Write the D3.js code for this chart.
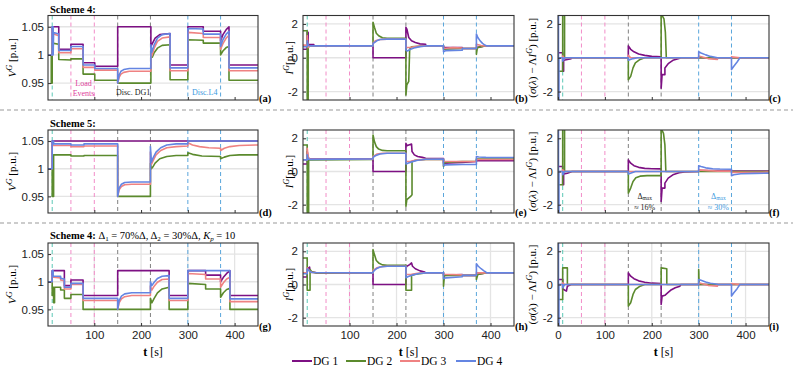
<!DOCTYPE html>
<html lang="en">
<head>
<meta charset="UTF-8">
<title>Schemes 4 and 5</title>
<script src="https://cdn.jsdelivr.net/npm/d3@7"></script>
<style>
    body { margin: 0; background: #fff; }
    svg { font-family: "Liberation Serif", "DejaVu Serif", serif; }
    .axis text { font-size: 11.5px; fill: #222; }
    .axis line { stroke: #333; }
    .axis path { display: none; }
</style>
</head>
<body>
<script>
// ---- data ----
const seriesNames = ['DG 1', 'DG 2', 'DG 3', 'DG 4'];
const eventTimes = [10, 50, 100, 150, 220, 300, 370];
const vTicks = [0.95, 1, 1.05];
const iTicks = [-2, 0, 2];
const tTicks = [100, 200, 300, 400];
const tTicksFull = [0, 100, 200, 300, 400];

// (a) Scheme 4, voltage
const aDG1 = [[1,1],[10,1],[10,1.05],[24,1.05],[24,1.010],[50,1.010],[50,1.019],[76,1.019],[76,0.986],[101,0.986],[101,0.980],[150,0.980],[150,1.05],[221,1.05],[221,1.015],[224,1.02],[230,1.03],[240,1.036],[262,1.038],[262,0.982],[300,0.982],[300,1.05],[333,1.05],[333,1.042],[370,1.042],[370,1.025],[375,1.036],[382,1.045],[388,1.05],[388,0.982],[450,0.982]];
const aDG2 = [[1,1],[8,1],[8,0.95],[10,0.95],[10,1.021],[24,1.019],[24,0.992],[50,0.991],[50,0.993],[76,0.993],[76,0.966],[101,0.966],[101,0.955],[150,0.955],[150,0.95],[221,0.95],[221,1.0],[224,0.996],[228,1.004],[235,1.012],[245,1.017],[262,1.018],[262,0.956],[300,0.956],[300,1.027],[333,1.026],[333,1.021],[370,1.021],[370,1.0],[375,1.007],[382,1.013],[388,1.015],[388,0.955],[450,0.955]];
const aDG3 = [[1,1],[10,1],[10,1.045],[13,1.037],[24,1.034],[24,1.004],[50,1.004],[50,1.011],[76,1.011],[76,0.978],[101,0.978],[101,0.973],[150,0.973],[150,0.95],[153,0.96],[157,0.966],[163,0.969],[175,0.971],[221,0.971],[221,1.005],[223,0.998],[228,1.012],[235,1.024],[245,1.03],[262,1.032],[262,0.972],[300,0.972],[300,1.04],[333,1.038],[333,1.031],[370,1.031],[370,1.01],[375,1.02],[382,1.03],[388,1.035],[388,0.972],[450,0.972]];
const aDG4 = [[1,1],[10,1],[10,1.05],[12,1.05],[12,1.0],[13,1.04],[24,1.037],[24,1.008],[50,1.008],[50,1.015],[76,1.015],[76,0.982],[101,0.982],[101,0.976],[150,0.976],[150,0.95],[153,0.964],[157,0.971],[163,0.974],[175,0.976],[221,0.976],[221,1.018],[223,1.005],[228,1.018],[235,1.03],[245,1.036],[262,1.038],[262,0.977],[300,0.977],[300,1.047],[333,1.046],[333,1.037],[370,1.037],[370,1.015],[375,1.027],[382,1.037],[388,1.042],[388,0.977],[450,0.977]];

// (b) Scheme 4, current
const bDG1 = [[1,0.5],[10,0.5],[10,1.5],[12,1.5],[12,0.8],[24,0.78],[24,0.7],[150,0.7],[150,0],[220,0],[220,1.8],[222,1.7],[226,1.2],[232,1.0],[240,0.9],[250,0.82],[262,0.8],[262,0.7],[300,0.7],[300,0.6],[340,0.6],[340,0.55],[370,0.55],[370,0.6],[388,0.7],[450,0.7]];
const bDG2 = [[1,1.6],[10,1.6],[10,-2.6],[12,-2.6],[12,0.6],[15,0.7],[150,0.7],[150,2.1],[153,1.8],[157,1.45],[162,1.3],[170,1.18],[180,1.15],[220,1.15],[220,-2.2],[222,-1.6],[226,-1.4],[228,0.5],[232,0.65],[262,0.7],[300,0.7],[300,0.5],[340,0.55],[370,0.55],[370,0.2],[372,0.6],[388,0.7],[450,0.7]];
const bDG3 = [[1,0.75],[10,0.75],[10,1.3],[12,0.6],[15,0.7],[150,0.7],[150,0.85],[155,1.0],[165,1.08],[180,1.1],[220,1.1],[220,0.6],[230,0.62],[245,0.68],[262,0.7],[300,0.7],[300,0.55],[320,0.6],[340,0.58],[340,0.55],[370,0.55],[370,0.8],[380,0.72],[388,0.7],[450,0.7]];
const bDG4 = [[1,0.65],[10,0.65],[10,1.0],[12,0.75],[15,0.7],[150,0.7],[150,0.85],[153,0.9],[158,1.0],[165,1.08],[180,1.1],[220,1.1],[220,0.45],[223,0.4],[230,0.5],[240,0.6],[250,0.66],[262,0.7],[300,0.7],[300,0.35],[305,0.42],[340,0.45],[340,0.55],[370,0.55],[370,1.4],[373,1.2],[378,1.0],[383,0.85],[388,0.75],[392,0.7],[450,0.7]];

// (c) Scheme 4, consensus error
const cDG1 = [[0,0.3],[10,0.3],[10,-0.8],[12,-0.8],[12,-0.15],[20,-0.1],[28,-0.05],[30,0],[150,0],[150,0.7],[155,0.5],[162,0.35],[172,0.22],[185,0.14],[200,0.08],[220,0.05],[220,-1.8],[222,-1.0],[228,-1.0],[228,-0.6],[235,-0.35],[245,-0.15],[258,-0.05],[262,0],[450,0]];
const cDG2 = [[0,-0.8],[10,-0.8],[10,2.6],[14,2.6],[14,0],[150,0],[150,-1.3],[155,-1.1],[160,-0.6],[165,-0.3],[175,-0.1],[185,0],[220,0],[220,2.6],[226,2.3],[229,1.5],[231,0],[450,0]];
const cDG3 = [[0,0],[10,0],[10,0.1],[14,-0.05],[20,0],[150,0],[150,0.15],[155,0],[300,0],[300,0.1],[320,-0.05],[340,-0.1],[340,0],[370,0],[370,0.05],[388,0],[450,0]];
const cDG4 = [[0,2.6],[1,2.6],[1,-2.6],[2,-2.6],[2,0],[10,0],[10,-0.2],[14,0],[150,0],[150,-0.15],[160,-0.05],[170,0],[300,0],[300,0.35],[305,0.28],[315,0.17],[325,0.08],[340,0],[370,0],[370,-0.7],[375,-0.5],[382,-0.25],[388,0],[450,0]];

// (d) Scheme 5, voltage
const dDG1 = [[1,1],[10,1],[10,1.05],[450,1.05]];
const dDG2 = [[1,1],[10,1],[10,0.95],[13,0.95],[13,1.025],[50,1.025],[50,1.023],[78,1.023],[78,1.024],[150,1.024],[150,0.95],[220,0.95],[220,1.01],[222,1.0],[225,1.003],[230,1.01],[240,1.018],[255,1.022],[275,1.024],[300,1.024],[300,1.029],[310,1.026],[330,1.023],[370,1.022],[370,1.018],[378,1.021],[390,1.024],[410,1.025],[450,1.025]];
const dDG3 = [[1,1],[10,1],[10,1.045],[13,1.042],[50,1.042],[50,1.04],[78,1.04],[78,1.041],[150,1.041],[150,0.95],[153,0.962],[158,0.968],[165,0.971],[180,0.972],[220,0.972],[220,1.03],[222,1.008],[226,1.015],[232,1.025],[242,1.033],[255,1.038],[275,1.04],[300,1.041],[300,1.047],[310,1.043],[325,1.04],[345,1.038],[370,1.037],[370,1.033],[378,1.037],[390,1.04],[410,1.042],[450,1.043]];
const dDG4 = [[1,1],[10,1],[10,1.05],[13,1.05],[13,1.045],[50,1.045],[50,1.043],[78,1.043],[78,1.045],[150,1.045],[150,0.95],[153,0.965],[158,0.972],[165,0.975],[180,0.976],[220,0.976],[220,1.04],[222,1.012],[226,1.02],[232,1.03],[242,1.038],[255,1.043],[275,1.045],[300,1.045],[300,1.05],[450,1.05]];

// (e) Scheme 5, current
const eDG1 = [[1,0.45],[10,0.45],[10,1.2],[12,0.8],[15,0.75],[150,0.75],[150,0],[220,0],[220,1.7],[222,1.55],[226,1.6],[232,1.65],[233,1.2],[238,1.0],[245,0.9],[255,0.85],[262,0.8],[300,0.78],[300,0.5],[340,0.55],[370,0.6],[370,0.65],[450,0.65]];
const eDG2 = [[1,1.6],[10,1.6],[10,-2.6],[13,-2.6],[13,0.7],[150,0.72],[150,2.2],[153,1.8],[157,1.5],[162,1.35],[170,1.27],[180,1.25],[220,1.25],[220,-2.1],[222,-1.7],[230,-1.5],[233,-1.4],[233,0.6],[240,0.68],[262,0.72],[300,0.72],[300,0.3],[302,0.55],[340,0.6],[370,0.62],[370,0.75],[450,0.75]];
const eDG3 = [[1,0.7],[10,0.7],[10,1.4],[12,0.9],[15,0.74],[150,0.74],[150,0.9],[158,1.05],[170,1.1],[220,1.1],[220,0.6],[230,0.62],[245,0.7],[262,0.73],[300,0.73],[300,0.6],[340,0.6],[370,0.6],[370,0.72],[450,0.72]];
const eDG4 = [[1,0.7],[10,0.7],[10,1.0],[12,0.75],[15,0.73],[150,0.76],[150,0.85],[155,0.95],[165,1.05],[180,1.1],[220,1.1],[220,0.45],[224,0.5],[232,0.58],[245,0.68],[262,0.74],[300,0.75],[300,0.35],[305,0.4],[340,0.42],[370,0.42],[370,0.9],[375,0.87],[390,0.85],[450,0.84]];

// (f) Scheme 5, consensus error
const fDG1 = [[0,0.3],[10,0.3],[10,-0.8],[12,-0.8],[12,-0.15],[20,-0.1],[30,0],[150,0],[150,0.7],[155,0.5],[162,0.35],[172,0.25],[185,0.19],[200,0.17],[220,0.16],[220,-1.8],[222,-1.0],[228,-1.0],[228,-0.7],[235,-0.4],[245,-0.2],[258,-0.08],[270,-0.03],[300,0],[300,0.05],[370,0.05],[370,0.03],[450,0.02]];
const fDG2 = [[0,-0.8],[10,-0.8],[10,2.6],[14,2.6],[14,0],[150,0],[150,-1.3],[155,-1.0],[160,-0.6],[166,-0.38],[175,-0.28],[190,-0.25],[220,-0.25],[220,2.6],[225,2.3],[228,1.6],[230,0],[450,0]];
const fDG3 = [[0,0],[10,0],[10,0.1],[14,0],[300,0],[300,0.1],[320,0.05],[340,0.02],[370,0.02],[370,-0.05],[400,-0.05],[450,-0.04]];
const fDG4 = [[0,2.6],[1,2.6],[1,-2.6],[2,-2.6],[2,0],[10,0],[10,-0.2],[14,0],[150,0],[150,-0.15],[165,0],[300,0],[300,0.35],[305,0.3],[315,0.22],[330,0.17],[345,0.15],[370,0.14],[370,-0.25],[375,-0.2],[390,-0.14],[420,-0.11],[450,-0.1]];

// (g) Scheme 4 tuned, voltage
const gDG1 = [[1,1],[10,1],[10,1.02],[36,1.02],[36,0.993],[50,0.993],[50,1.003],[76,1.003],[76,0.975],[150,0.975],[150,1.02],[260,1.02],[260,0.975],[300,0.975],[300,1.02],[338,1.02],[338,1.012],[370,1.012],[370,1.0],[376,1.008],[383,1.015],[390,1.02],[390,0.975],[450,0.975]];
const gDG2 = [[1,1],[10,1],[10,0.975],[12,0.99],[13,0.99],[13,0.962],[15,0.962],[15,0.99],[28,0.99],[28,0.985],[36,0.985],[36,0.97],[50,0.97],[50,0.977],[76,0.977],[76,0.95],[220,0.95],[220,0.97],[223,0.962],[228,0.97],[235,0.98],[245,0.987],[260,0.99],[260,0.95],[300,0.95],[300,0.997],[338,0.995],[338,0.987],[370,0.987],[370,0.972],[376,0.98],[383,0.986],[390,0.988],[390,0.95],[450,0.95]];
const gDG3 = [[1,1],[10,1],[10,1.01],[13,1.008],[28,1.007],[28,1.003],[36,1.002],[36,0.987],[50,0.987],[50,0.995],[76,0.995],[76,0.966],[150,0.966],[150,0.95],[153,0.962],[158,0.969],[165,0.973],[180,0.975],[220,0.975],[220,0.992],[223,0.985],[228,0.992],[235,0.999],[245,1.004],[260,1.005],[260,0.966],[300,0.966],[300,1.015],[338,1.013],[338,1.005],[370,1.005],[370,0.99],[376,0.998],[383,1.005],[390,1.008],[390,0.964],[450,0.964]];
const gDG4 = [[1,1],[10,1],[10,1.02],[12,1.02],[12,1.01],[28,1.01],[28,1.006],[36,1.005],[36,0.99],[50,0.99],[50,0.997],[76,0.997],[76,0.97],[150,0.97],[150,0.95],[153,0.966],[158,0.974],[165,0.978],[180,0.98],[220,0.98],[220,1.0],[223,0.993],[228,0.999],[235,1.006],[245,1.01],[260,1.011],[260,0.97],[300,0.97],[300,1.02],[390,1.02],[390,0.969],[450,0.969]];

// (h) Scheme 4 tuned, current
const hDG1 = [[1,0.45],[10,0.45],[10,0.9],[15,1.05],[16,0.8],[20,0.75],[28,0.72],[30,0.7],[150,0.7],[150,0],[220,0],[220,1.0],[222,1.1],[228,1.2],[232,1.3],[234,1.1],[240,0.95],[250,0.82],[260,0.75],[262,0.7],[300,0.7],[300,0.55],[340,0.6],[340,0.55],[370,0.55],[370,0.6],[390,0.7],[450,0.7]];
const hDG2 = [[1,1.6],[10,1.6],[10,-0.35],[16,-0.35],[16,0.9],[20,0.75],[28,0.7],[150,0.7],[150,2.1],[153,1.8],[157,1.45],[162,1.3],[170,1.18],[180,1.15],[220,1.15],[220,-0.35],[232,-0.35],[232,0.55],[240,0.62],[262,0.7],[300,0.7],[300,-0.1],[302,0.55],[340,0.55],[370,0.55],[370,0.3],[373,0.6],[390,0.7],[450,0.7]];
const hDG3 = [[1,0.7],[10,0.7],[10,1.0],[15,0.8],[20,0.72],[150,0.7],[150,0.85],[158,1.0],[170,1.08],[180,1.1],[220,1.1],[220,0.6],[232,0.62],[245,0.68],[262,0.7],[300,0.7],[300,0.62],[340,0.58],[340,0.55],[370,0.55],[370,0.7],[390,0.7],[450,0.7]];
const hDG4 = [[1,0.65],[10,0.65],[10,0.95],[15,0.8],[20,0.72],[150,0.7],[150,0.75],[153,0.85],[158,0.97],[165,1.05],[180,1.1],[220,1.1],[220,0.4],[225,0.48],[235,0.58],[248,0.66],[262,0.7],[300,0.7],[300,0.35],[305,0.4],[340,0.47],[340,0.55],[370,0.55],[370,1.25],[374,1.1],[380,0.95],[386,0.82],[390,0.75],[392,0.7],[450,0.7]];

// (i) Scheme 4 tuned, consensus error
const iDG1 = [[0,0.3],[10,0.3],[10,-0.3],[12,-0.3],[18,-0.4],[20,-0.1],[28,0],[150,0],[150,0.7],[155,0.5],[162,0.35],[172,0.22],[185,0.14],[200,0.08],[220,0.05],[220,-1.2],[222,-0.7],[228,-0.65],[232,-0.55],[240,-0.35],[250,-0.2],[260,-0.1],[262,0],[450,0]];
const iDG2 = [[0,-0.9],[10,-0.9],[10,1.0],[20,1.0],[20,0],[150,0],[150,-1.3],[155,-1.1],[160,-0.6],[165,-0.3],[175,-0.1],[185,0],[220,0],[220,1.0],[232,0.95],[232,0],[300,0],[300,0.9],[301,0],[450,0]];
const iDG3 = [[0,0],[10,0],[10,0.1],[14,0],[300,0],[300,0.1],[320,-0.05],[340,-0.1],[340,0],[370,0],[370,0.05],[388,0],[450,0]];
const iDG4 = [[0,2.6],[1,2.6],[1,-2.6],[2,-2.6],[2,0],[10,0],[10,-0.2],[14,0],[300,0],[300,0.3],[305,0.25],[315,0.15],[325,0.08],[340,0.02],[340,0],[370,0],[370,-0.7],[375,-0.5],[382,-0.25],[388,0],[450,0]];

// ---- layout ----
const width = 793, height = 370;
const lineColors = ['#7d1083', '#5b8a2d', '#ef8282', '#6485e2'];
const eventColors = ['#5cc8b6', '#f28dc8', '#f28dc8', '#808080', '#808080', '#5aa6dc', '#5aa6dc'];

const cols = [
    {x0: 48, x1: 258, t0: 1, yDomain: [0.92, 1.07], yTicks: vTicks, fmt: d => d === 1 ? '1' : d.toFixed(2)},
    {x0: 303, x1: 514, t0: 1, yDomain: [-2.5, 2.5], yTicks: iTicks, fmt: d => String(d)},
    {x0: 558, x1: 769, t0: 0, yDomain: [-2.5, 2.5], yTicks: iTicks, fmt: d => String(d)}
];
const rows = [{y0: 15.5, y1: 100, lab: 101.5}, {y0: 130, y1: 213, lab: 215.5}, {y0: 243, y1: 326, lab: 330}];

const panels = [
    {id: 'a', r: 0, c: 0, data: [aDG1, aDG2, aDG3, aDG4]},
    {id: 'b', r: 0, c: 1, data: [bDG1, bDG2, bDG3, bDG4]},
    {id: 'c', r: 0, c: 2, data: [cDG1, cDG2, cDG3, cDG4]},
    {id: 'd', r: 1, c: 0, data: [dDG1, dDG2, dDG3, dDG4]},
    {id: 'e', r: 1, c: 1, data: [eDG1, eDG2, eDG3, eDG4]},
    {id: 'f', r: 1, c: 2, data: [fDG1, fDG2, fDG3, fDG4]},
    {id: 'g', r: 2, c: 0, data: [gDG1, gDG2, gDG3, gDG4]},
    {id: 'h', r: 2, c: 1, data: [hDG1, hDG2, hDG3, hDG4]},
    {id: 'i', r: 2, c: 2, data: [iDG1, iDG2, iDG3, iDG4]}
];

const svg = d3.select('body').append('svg')
    .attr('width', width)
    .attr('height', height);

const labX = [259, 515, 769];
const yLabX = [16, 292.5, 536];

panels.forEach(function (p) {
    const col = cols[p.c], row = rows[p.r];
    const x = d3.scaleLinear().domain([col.t0, 450]).range([col.x0, col.x1]);
    const y = d3.scaleLinear().domain(col.yDomain).range([row.y1, row.y0]);
    const g = svg.append('g');

    // grid
    g.selectAll('.hg').data(col.yTicks).enter().append('line')
        .attr('x1', col.x0).attr('x2', col.x1)
        .attr('y1', d => y(d)).attr('y2', d => y(d))
        .attr('stroke', '#e4e4e4').attr('stroke-width', 1.3);
    if (p.r === 2) {
        g.selectAll('.vg').data(tTicks).enter().append('line')
            .attr('x1', d => x(d)).attr('x2', d => x(d))
            .attr('y1', row.y0).attr('y2', row.y1)
            .attr('stroke', '#e4e4e4').attr('stroke-width', 1.3);
    }

    // event markers
    g.selectAll('.ev').data(eventTimes).enter().append('line')
        .attr('x1', d => x(d)).attr('x2', d => x(d))
        .attr('y1', row.y0).attr('y2', row.y1)
        .attr('stroke', (d, i) => eventColors[i])
        .attr('stroke-width', 1)
        .attr('stroke-dasharray', '4,3');

    // series
    const clipId = 'clip' + p.id;
    svg.append('clipPath').attr('id', clipId).append('rect')
        .attr('x', col.x0).attr('y', row.y0)
        .attr('width', col.x1 - col.x0).attr('height', row.y1 - row.y0);
    const line = d3.line().x(d => x(d[0])).y(d => y(d[1]));
    g.append('g').attr('clip-path', 'url(#' + clipId + ')')
        .selectAll('path').data(p.data).enter().append('path')
        .attr('d', line)
        .attr('fill', 'none')
        .attr('stroke', (d, i) => lineColors[i])
        .attr('stroke-width', 1.6)
        .attr('stroke-linejoin', 'round');

    // axes
    g.append('g').attr('class', 'axis')
        .attr('transform', 'translate(' + col.x0 + ',0)')
        .call(d3.axisLeft(y).tickValues(col.yTicks).tickFormat(col.fmt)
            .tickSizeInner(-3).tickSizeOuter(0).tickPadding(p.c === 0 ? 4 : 5));
    const xt = p.c === 2 ? tTicksFull : tTicks;
    const xAxis = g.append('g').attr('class', 'axis')
        .attr('transform', 'translate(0,' + row.y1 + ')')
        .call(d3.axisBottom(x).tickValues(xt)
            .tickSizeInner(-3).tickSizeOuter(0).tickPadding(5));
    if (p.r !== 2) xAxis.selectAll('text').remove();

    g.append('rect')
        .attr('x', col.x0).attr('y', row.y0)
        .attr('width', col.x1 - col.x0).attr('height', row.y1 - row.y0)
        .attr('fill', 'none').attr('stroke', '#333').attr('stroke-width', 1.1);

    // panel letter
    svg.append('text')
        .attr('x', labX[p.c]).attr('y', row.lab)
        .attr('font-size', 10.5).attr('font-weight', 'bold')
        .text('(' + p.id + ')');

    // y label
    const cy = (row.y0 + row.y1) / 2;
    const yl = svg.append('text')
        .attr('transform', 'translate(' + yLabX[p.c] + ',' + cy + ') rotate(-90)')
        .attr('text-anchor', 'middle')
        .attr('font-size', 11);
    if (p.c === 0) {
        yl.append('tspan').attr('font-style', 'italic').text('V');
        yl.append('tspan').attr('font-size', 8).attr('font-style', 'italic').attr('dy', -4).text('G');
        yl.append('tspan').attr('dy', 4).text(' [p.u.]');
    } else if (p.c === 1) {
        yl.append('tspan').attr('font-style', 'italic').text('I');
        yl.append('tspan').attr('font-size', 8).attr('font-style', 'italic').attr('dy', -4).text('G');
        yl.append('tspan').attr('dy', 4).text('[p.u.]');
    } else {
        yl.append('tspan').text('(');
        yl.append('tspan').attr('font-style', 'italic').text('σ');
        yl.append('tspan').text('(');
        yl.append('tspan').attr('font-style', 'italic').text('λ');
        yl.append('tspan').text(') − Λ');
        yl.append('tspan').attr('font-style', 'italic').text('I');
        yl.append('tspan').attr('font-size', 8).attr('font-style', 'italic').attr('dy', -4).text('G');
        yl.append('tspan').attr('dy', 4).text(') [p.u.]');
    }

    // x label
    if (p.r === 2) {
        const xl = svg.append('text')
            .attr('x', (col.x0 + col.x1) / 2).attr('y', 356)
            .attr('text-anchor', 'middle').attr('font-size', 12);
        xl.append('tspan').attr('font-weight', 'bold').text('t');
        xl.append('tspan').text('  [s]');
    }

    // annotations
    if (p.id === 'a') {
        const ann = [
            {t: 77, y: 86, s: 'Load', c: '#e0409c'},
            {t: 77, y: 96, s: 'Events', c: '#e0409c'},
            {t: 183, y: 95, s: 'Disc. DG1', c: '#222'},
            {t: 336, y: 95, s: 'Disc.L4', c: '#3d9ae0'}
        ];
        ann.forEach(function (a) {
            svg.append('text').attr('x', x(a.t)).attr('y', a.y)
                .attr('text-anchor', 'middle').attr('font-size', 8)
                .attr('fill', a.c).text(a.s);
        });
    }
    if (p.id === 'f') {
        [{t: 185, c: '#222', s: '≈ 16%'}, {t: 342, c: '#3d9ae0', s: '≈ 30%'}].forEach(function (a) {
            const t1 = svg.append('text').attr('x', x(a.t)).attr('y', 198.5)
                .attr('text-anchor', 'middle').attr('font-size', 8).attr('fill', a.c);
            t1.append('tspan').text('Δ');
            t1.append('tspan').attr('font-size', 5.5).attr('dy', 1).text('max');
            svg.append('text').attr('x', x(a.t)).attr('y', 210)
                .attr('text-anchor', 'middle').attr('font-size', 8).attr('fill', a.c).text(a.s);
        });
    }
});

// scheme titles
svg.append('text').attr('x', 50).attr('y', 12.5)
    .attr('font-size', 10.5).attr('font-weight', 'bold').text('Scheme 4:');
svg.append('text').attr('x', 50).attr('y', 127)
    .attr('font-size', 10.5).attr('font-weight', 'bold').text('Scheme 5:');
const t3 = svg.append('text').attr('x', 50).attr('y', 239).attr('font-size', 10.5);
t3.append('tspan').attr('font-weight', 'bold').text('Scheme 4:  ');
t3.append('tspan').text('Δ');
t3.append('tspan').attr('font-size', 7).attr('dy', 2).text('1');
t3.append('tspan').attr('dy', -2).text(' = 70%Δ,  Δ');
t3.append('tspan').attr('font-size', 7).attr('dy', 2).text('2');
t3.append('tspan').attr('dy', -2).text(' = 30%Δ,  ');
t3.append('tspan').attr('font-style', 'italic').text('K');
t3.append('tspan').attr('font-size', 7).attr('font-style', 'italic').attr('dy', 2).text('p');
t3.append('tspan').attr('dy', -2).text(' = 10');

// separators
[110, 223].forEach(function (yy) {
    svg.append('line').attr('x1', 0).attr('x2', width).attr('y1', yy).attr('y2', yy)
        .attr('stroke', '#999').attr('stroke-width', 1.2).attr('stroke-dasharray', '4,3');
});

// legend
const legX = [292, 346, 400, 456];
const leg = svg.selectAll('.leg').data(seriesNames).enter().append('g')
    .attr('transform', (d, i) => 'translate(' + legX[i] + ',361)');
leg.append('line').attr('x1', 0).attr('x2', 20)
    .attr('stroke', (d, i) => lineColors[i]).attr('stroke-width', 2);
leg.append('text').attr('x', 21).attr('y', 4)
    .attr('font-size', 11.5).text(d => d);
</script>
</body>
</html>
